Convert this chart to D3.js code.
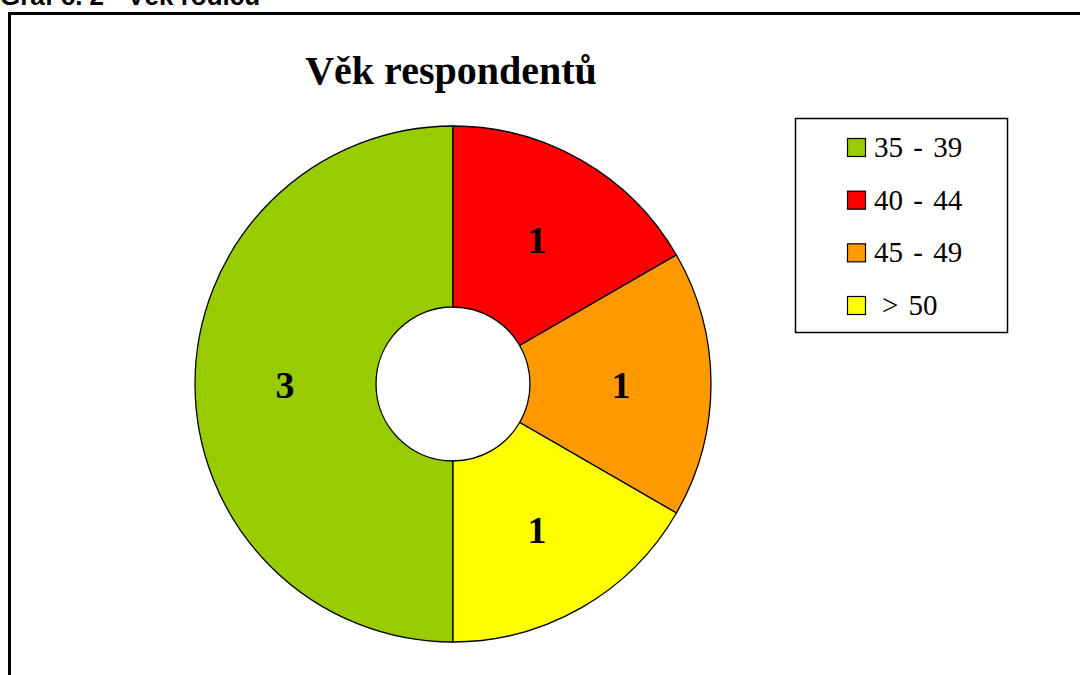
<!DOCTYPE html>
<html>
<head>
<meta charset="utf-8">
<script src="https://cdn.jsdelivr.net/npm/d3@7"></script>
<style>
  body { margin: 0; background: #fff; }
  svg { display: block; }
</style>
</head>
<body>
<div id="chart"></div>
<script>
// Data
const categories = ["35 - 39", "40 - 44", "45 - 49", "> 50"];
const counts = [3, 1, 1, 1];
const colors = ["#99cc00", "#ff0000", "#ff9900", "#ffff00"];

const width = 1080, height = 675;
const cx = 453, cy = 384;
const outerR = 258, innerR = 77;
const serif = "'Liberation Serif', 'Times New Roman', Times, serif";

const svg = d3.select("#chart").append("svg")
  .attr("width", width)
  .attr("height", height);

// caption above the frame, cut off by the page edge
svg.append("text")
  .attr("x", 0)
  .attr("y", 5)
  .attr("font-family", "'Liberation Sans', Arial, sans-serif")
  .attr("font-weight", "bold")
  .attr("font-size", 26)
  .text("Graf č. 2 - Věk rodičů");

// frame
svg.append("rect")
  .attr("x", 9.5)
  .attr("y", 13.5)
  .attr("width", 1200)
  .attr("height", 800)
  .attr("fill", "none")
  .attr("stroke", "#000")
  .attr("stroke-width", 3);

// title
svg.append("text")
  .attr("x", 451)
  .attr("y", 84)
  .attr("text-anchor", "middle")
  .attr("font-family", serif)
  .attr("font-weight", "bold")
  .attr("font-size", 40)
  .text("Věk respondentů");

// donut
const data = categories.map((c, i) => ({ cat: c, value: counts[i], color: colors[i] }));

const pie = d3.pie()
  .sort(null)
  .value((d) => d.value)
  .startAngle(Math.PI)
  .endAngle(3 * Math.PI);

const arc = d3.arc().innerRadius(innerR).outerRadius(outerR);
const labelArc = d3.arc().innerRadius(168).outerRadius(168);

const g = svg.append("g").attr("transform", `translate(${cx},${cy})`);

g.selectAll("path")
  .data(pie(data))
  .enter()
  .append("path")
  .attr("d", arc)
  .attr("fill", (d) => d.data.color)
  .attr("stroke", "#000")
  .attr("stroke-width", 1.3);

g.selectAll("text")
  .data(pie(data))
  .enter()
  .append("text")
  .attr("transform", (d) => {
    const [x, y] = labelArc.centroid(d);
    return `translate(${x},${y + 14})`;
  })
  .attr("text-anchor", "middle")
  .attr("font-family", serif)
  .attr("font-weight", "bold")
  .attr("font-size", 38)
  .text((d) => d.data.value);

// legend
const legend = svg.append("g");

legend.append("rect")
  .attr("x", 795.5)
  .attr("y", 118.5)
  .attr("width", 212)
  .attr("height", 214)
  .attr("fill", "#fff")
  .attr("stroke", "#000")
  .attr("stroke-width", 1.5);

const rowY = d3.scalePoint()
  .domain(categories)
  .range([148, 306]);

const rows = legend.selectAll("g.row")
  .data(data)
  .enter()
  .append("g")
  .attr("class", "row")
  .attr("transform", (d) => `translate(0,${rowY(d.cat)})`);

rows.append("rect")
  .attr("x", 847.5)
  .attr("y", -9.5)
  .attr("width", 18)
  .attr("height", 18)
  .attr("fill", (d) => d.color)
  .attr("stroke", "#000")
  .attr("stroke-width", 1.2);

rows.append("text")
  .attr("x", (d) => d.cat.startsWith(">") ? 882 : 874)
  .attr("y", 9)
  .attr("font-family", serif)
  .attr("font-size", 29)
  .attr("word-spacing", 3)
  .text((d) => d.cat);
</script>
</body>
</html>
